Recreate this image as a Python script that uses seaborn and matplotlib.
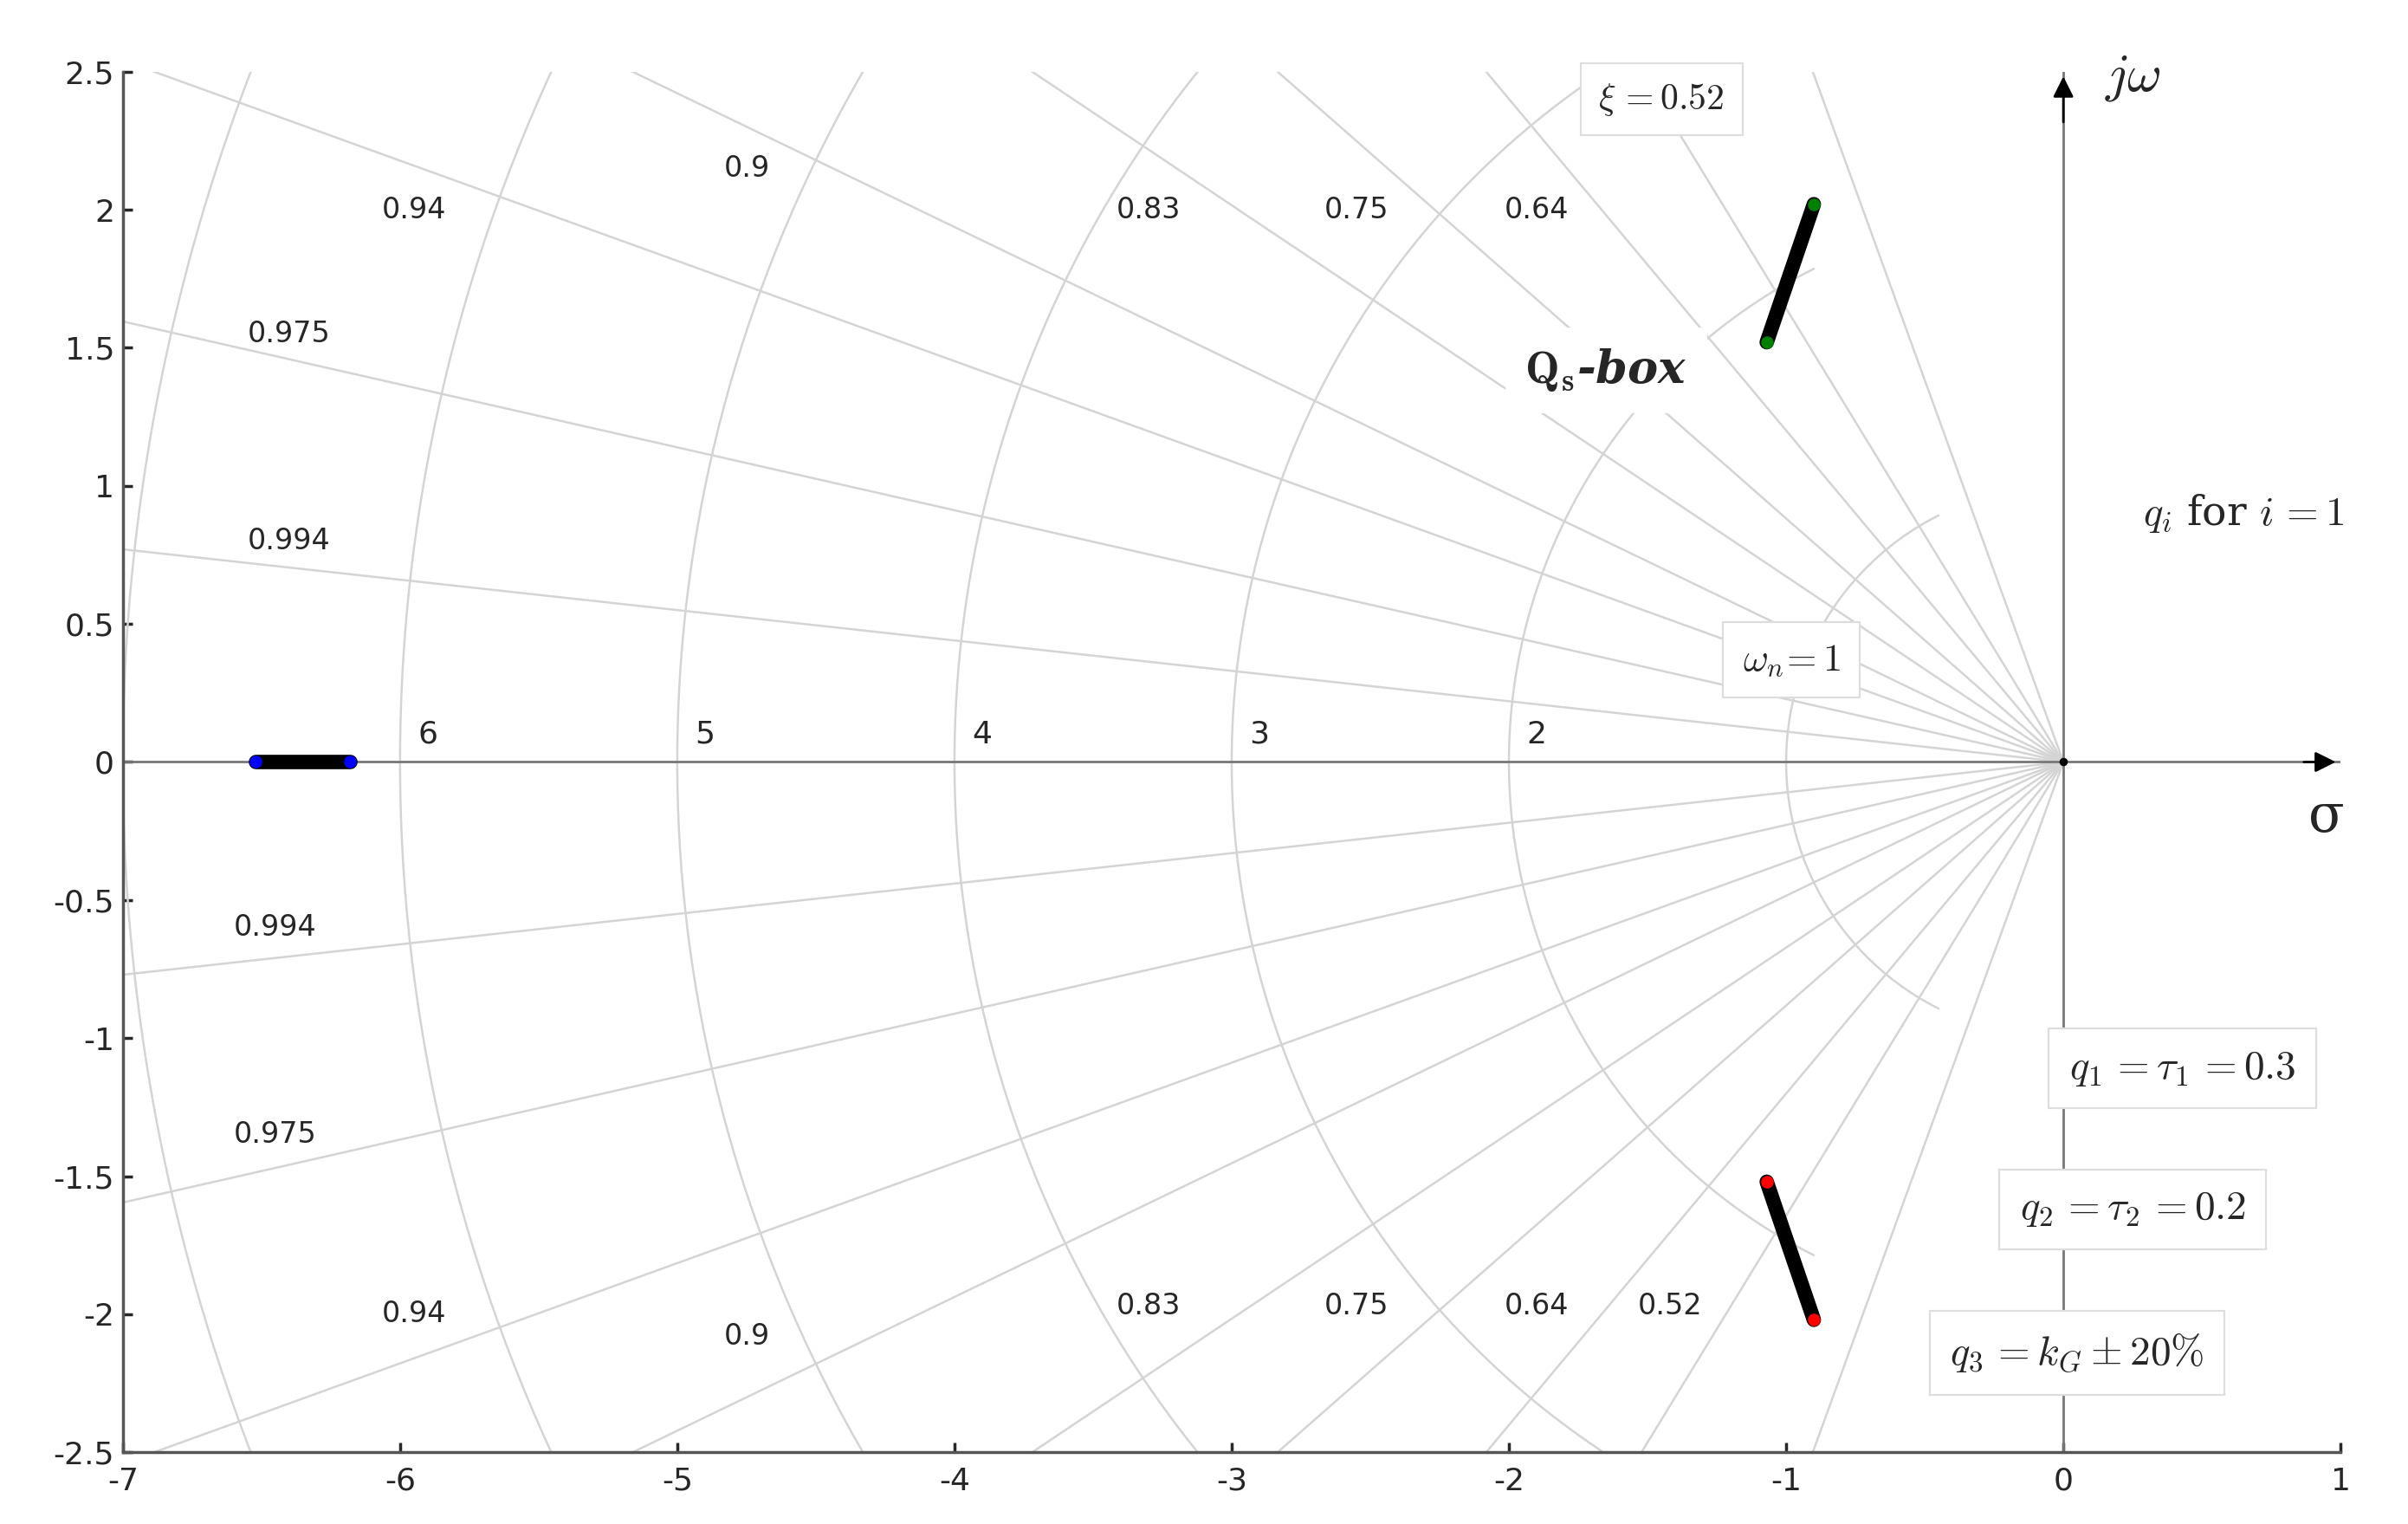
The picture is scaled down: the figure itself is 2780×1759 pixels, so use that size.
import numpy as np
import matplotlib
matplotlib.use("Agg")
import matplotlib.pyplot as plt
import seaborn as sns

sns.set_theme(style="white")
plt.rcParams['font.family'] = ['DejaVu Sans']
plt.rcParams['mathtext.fontset'] = 'cm'
plt.rcParams['axes.unicode_minus'] = False

zeta_vals = [0.34, 0.52, 0.64, 0.75, 0.83, 0.9, 0.94, 0.975, 0.994]
wn_vals = [1, 2, 3, 4, 5, 6, 7]
wn_labels = ["2", "3", "4", "5", "6"]
# root loci
upper_re = [-1.07, -0.90]; upper_im = [1.52, 2.02]
lower_re = [-1.07, -0.90]; lower_im = [-1.52, -2.02]
real_re = [-6.52, -6.18]; real_im = [0.0, 0.0]

fig = plt.figure(figsize=(13.9, 8.795), dpi=200)
ax = fig.add_axes([0.051, 0.047, 0.921, 0.906])
ax.set_xlim(-7, 1); ax.set_ylim(-2.5, 2.5)
gc = '#d4d4d4'
R = 8
for z in zeta_vals:
    th = np.arccos(z)
    sns.lineplot(x=[0, -R*z], y=[0, R*np.sin(th)], ax=ax, color=gc, lw=0.9, sort=False)
    sns.lineplot(x=[0, -R*z], y=[0, -R*np.sin(th)], ax=ax, color=gc, lw=0.9, sort=False)
amax = np.arccos(0.45)
for w in wn_vals:
    t = np.linspace(np.pi - amax, np.pi + amax, 300)
    ax.plot(w*np.cos(t), w*np.sin(t), color=gc, lw=0.9)
ax.axhline(0, color='#777777', lw=1)
ax.axvline(0, color='#777777', lw=1)

for x, y, s in [(-5.95, 2.0, "0.94"), (-4.75, 2.15, "0.9"), (-3.3, 2.0, "0.83"),
                (-2.55, 2.0, "0.75"), (-1.9, 2.0, "0.64"), (-6.4, 1.55, "0.975"),
                (-6.4, 0.8, "0.994"), (-6.45, -0.6, "0.994"), (-6.45, -1.35, "0.975"),
                (-5.95, -2.0, "0.94"), (-4.75, -2.08, "0.9"), (-3.3, -1.97, "0.83"),
                (-2.55, -1.97, "0.75"), (-1.9, -1.97, "0.64"), (-1.42, -1.97, "0.52")]:
    ax.text(x, y, s, fontsize=12, ha='center', va='center')
for w, s in zip([2, 3, 4, 5, 6], wn_labels):
    ax.text(-w + 0.1, 0.1, s, fontsize=13, ha='center', va='center')

for xs, ys, c in [(upper_re, upper_im, 'green'), (lower_re, lower_im, 'red'), (real_re, real_im, 'blue')]:
    ax.plot(xs, ys, color='black', lw=6, solid_capstyle='round', zorder=5)
    ax.scatter(xs, ys, color=c, s=18, zorder=6)
ax.scatter([0], [0], color='black', s=6, zorder=6)

bx = dict(boxstyle='square,pad=0.5', fc='white', ec='#dddddd', lw=0.8)
ax.text(-1.45, 2.4, r"$\xi\,=0.52$", fontsize=15, ha='center', va='center', bbox=bx)
ax.text(-1.65, 1.42, r"$\mathbf{Q_s}$-box", fontsize=19, ha='center', va='center',
        fontweight='bold', style='italic', family=['DejaVu Serif'],
        bbox=dict(boxstyle='square,pad=0.4', fc='white', ec='white'))
ax.text(0.65, 0.9, r"$q_i$ for $i\,=1$", fontsize=17, ha='center', va='center', family=['DejaVu Serif'])
ax.text(-0.98, 0.37, r"$\omega_n\!=1$", fontsize=16, ha='center', va='center', bbox=bx)
ax.text(0.43, -1.11, r"$q_1\,=\tau_1\,=0.3$", fontsize=17, ha='center', va='center', bbox=bx)
ax.text(0.25, -1.62, r"$q_2\,=\tau_2\,=0.2$", fontsize=17, ha='center', va='center', bbox=bx)
ax.text(0.05, -2.14, r"$q_3\,=k_G\pm20\%$", fontsize=17, ha='center', va='center', bbox=bx)
ax.text(0.25, 2.48, r"$j\omega$", fontsize=22, ha='center', va='center')
ax.text(0.95, -0.2, "σ", fontsize=22, ha='center', va='center', family=['DejaVu Serif'])
ax.annotate("", xy=(0, 2.5), xytext=(0, 2.3), arrowprops=dict(arrowstyle='-|>', color='black', lw=1, mutation_scale=18), annotation_clip=False)
ax.annotate("", xy=(1.0, 0), xytext=(0.85, 0), arrowprops=dict(arrowstyle='-|>', color='black', lw=1, mutation_scale=18), annotation_clip=False)

ax.set_xticks(range(-7, 2))
ax.set_xticklabels([str(v) for v in range(-7, 2)])
ax.set_yticks(np.arange(-2.5, 2.51, 0.5))
ax.set_yticklabels(["-2.5", "-2", "-1.5", "-1", "-0.5", "0", "0.5", "1", "1.5", "2", "2.5"])
ax.tick_params(labelsize=13, direction='in', length=4, left=True, bottom=True)
ax.tick_params(axis='x', pad=6)
for s in ['top', 'right']:
    ax.spines[s].set_visible(False)
for s in ['left', 'bottom']:
    ax.spines[s].set_color('#555555')
fig.savefig("out.png", dpi=200, facecolor='white')
